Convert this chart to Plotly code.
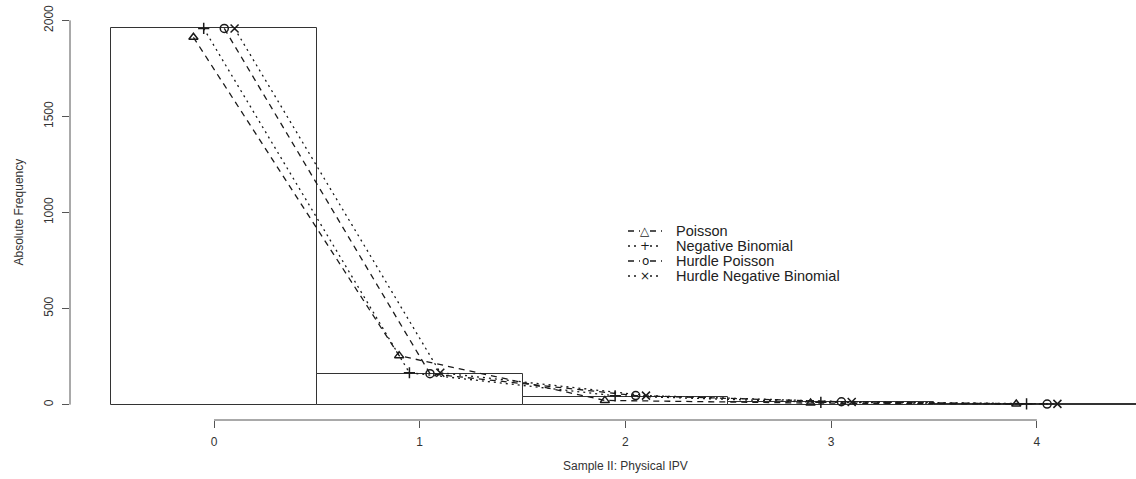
import plotly.graph_objects as go

# ---- data ----
counts = [0, 1, 2, 3, 4]
observed = [1958, 161, 42, 12, 5]
poisson = [1912, 255, 22, 8, 3]
neg_binomial = [1958, 166, 46, 12, 4]
hurdle_poisson = [1958, 161, 47, 15, 3]
hurdle_neg_binomial = [1958, 166, 47, 14, 4]
series_names = ["Poisson", "Negative Binomial", "Hurdle Poisson", "Hurdle Negative Binomial"]
x_ticks = [0, 1, 2, 3, 4]
y_ticks = [0, 500, 1000, 1500, 2000]

W, H = 1136, 479
ML, MR, MT, MB = 70, 0, 5, 59
PW, PH = W - ML - MR, H - MT - MB
XR = [-0.7, 4.482]
YR = [-80, 2080]
INK = "#1a1a1a"
AX = "#555555"
FONT = "Liberation Sans, Arial, sans-serif"

def py(v):
    return (v - YR[0]) / (YR[1] - YR[0])

def px(v):
    return (v - XR[0]) / (XR[1] - XR[0])

def pxl_x(p):  # pixel -> paper x
    return (p - ML) / PW

def pxl_y(p):  # pixel -> paper y
    return 1 - (p - MT) / PH

fig = go.Figure()
fig.add_trace(go.Bar(x=counts, y=observed, width=1.0,
                     marker=dict(color="white", line=dict(color="#333333", width=1)),
                     showlegend=False, hoverinfo="skip"))

styles = [
    (poisson, -0.10, "triangle-up-open", "6px,5px", "△"),
    (neg_binomial, -0.05, "cross-thin-open", "2px,4px", "+"),
    (hurdle_poisson, 0.05, "circle-open", "6px,5px", "o"),
    (hurdle_neg_binomial, 0.10, "x-thin-open", "2px,4px", "×"),
]
for name, (vals, off, sym, dash, _) in zip(series_names, styles):
    fig.add_trace(go.Scatter(
        x=[c + off for c in counts], y=vals, name=name, mode="lines+markers",
        line=dict(color=INK, width=1.3, dash=dash),
        marker=dict(symbol=sym, size=8, color=INK, line=dict(color=INK, width=1.5)),
        cliponaxis=False, showlegend=False,
    ))

shapes = [
    dict(type="line", xref="paper", yref="paper", x0=0, x1=0,
         y0=py(y_ticks[0]), y1=py(y_ticks[-1]), line=dict(color=AX, width=1)),
    dict(type="line", xref="paper", yref="paper", x0=px(x_ticks[0]), x1=px(x_ticks[-1]),
         y0=0, y1=0, line=dict(color=AX, width=1)),
]

annotations = [
    dict(text="Sample II: Physical IPV", xref="x", yref="paper", x=2.0, y=0,
         yshift=-46, showarrow=False, font=dict(size=12, color="#333333"),
         xanchor="center", yanchor="middle"),
    dict(text="Absolute Frequency", xref="paper", yref="paper", x=0, y=0.5,
         xshift=-52, showarrow=False, textangle=-90,
         font=dict(size=12, color="#333333"), xanchor="center", yanchor="middle"),
]

# manual R-style legend
leg_rows = [231, 246, 261, 276]
leg_dash = ["dash", "dot", "dash", "dot"]
for name, (_, _, _, dash, glyph), ry, ld in zip(series_names, styles, leg_rows, leg_dash):
    yy = pxl_y(ry)
    for a, b in ((628, 640), (650, 662)):
        shapes.append(dict(type="line", xref="paper", yref="paper",
                           x0=pxl_x(a), x1=pxl_x(b), y0=yy, y1=yy,
                           line=dict(color=INK, width=1.3, dash=dash)))
    annotations.append(dict(text=glyph, xref="paper", yref="paper", x=pxl_x(645), y=yy,
                            showarrow=False, xanchor="center", yanchor="middle",
                            font=dict(family="DejaVu Sans, sans-serif", size=12, color=INK)))
    annotations.append(dict(text=name, xref="paper", yref="paper", x=pxl_x(674), y=yy,
                            showarrow=False, xanchor="left", yanchor="middle",
                            font=dict(size=14.5, color="#222222")))

fig.update_layout(
    width=W, height=H,
    margin=dict(l=ML, r=MR, t=MT, b=MB),
    paper_bgcolor="white", plot_bgcolor="white",
    font=dict(family=FONT, color="#333333", size=12),
    bargap=0,
    showlegend=False,
    shapes=shapes,
    annotations=annotations,
    xaxis=dict(range=XR, showgrid=False, zeroline=False, showline=False,
               tickmode="array", tickvals=x_ticks, ticks="outside", ticklen=7,
               tickcolor=AX, tickwidth=1, tickfont=dict(size=12, color="#333333"),
               ticklabelstandoff=4),
    yaxis=dict(range=YR, showgrid=False, zeroline=False, showline=False,
               tickmode="array", tickvals=y_ticks, ticks="outside", ticklen=7,
               tickcolor=AX, tickwidth=1, tickangle=-90,
               tickfont=dict(size=12, color="#333333"), ticklabelstandoff=4),
)

fig.write_html("out.html")
